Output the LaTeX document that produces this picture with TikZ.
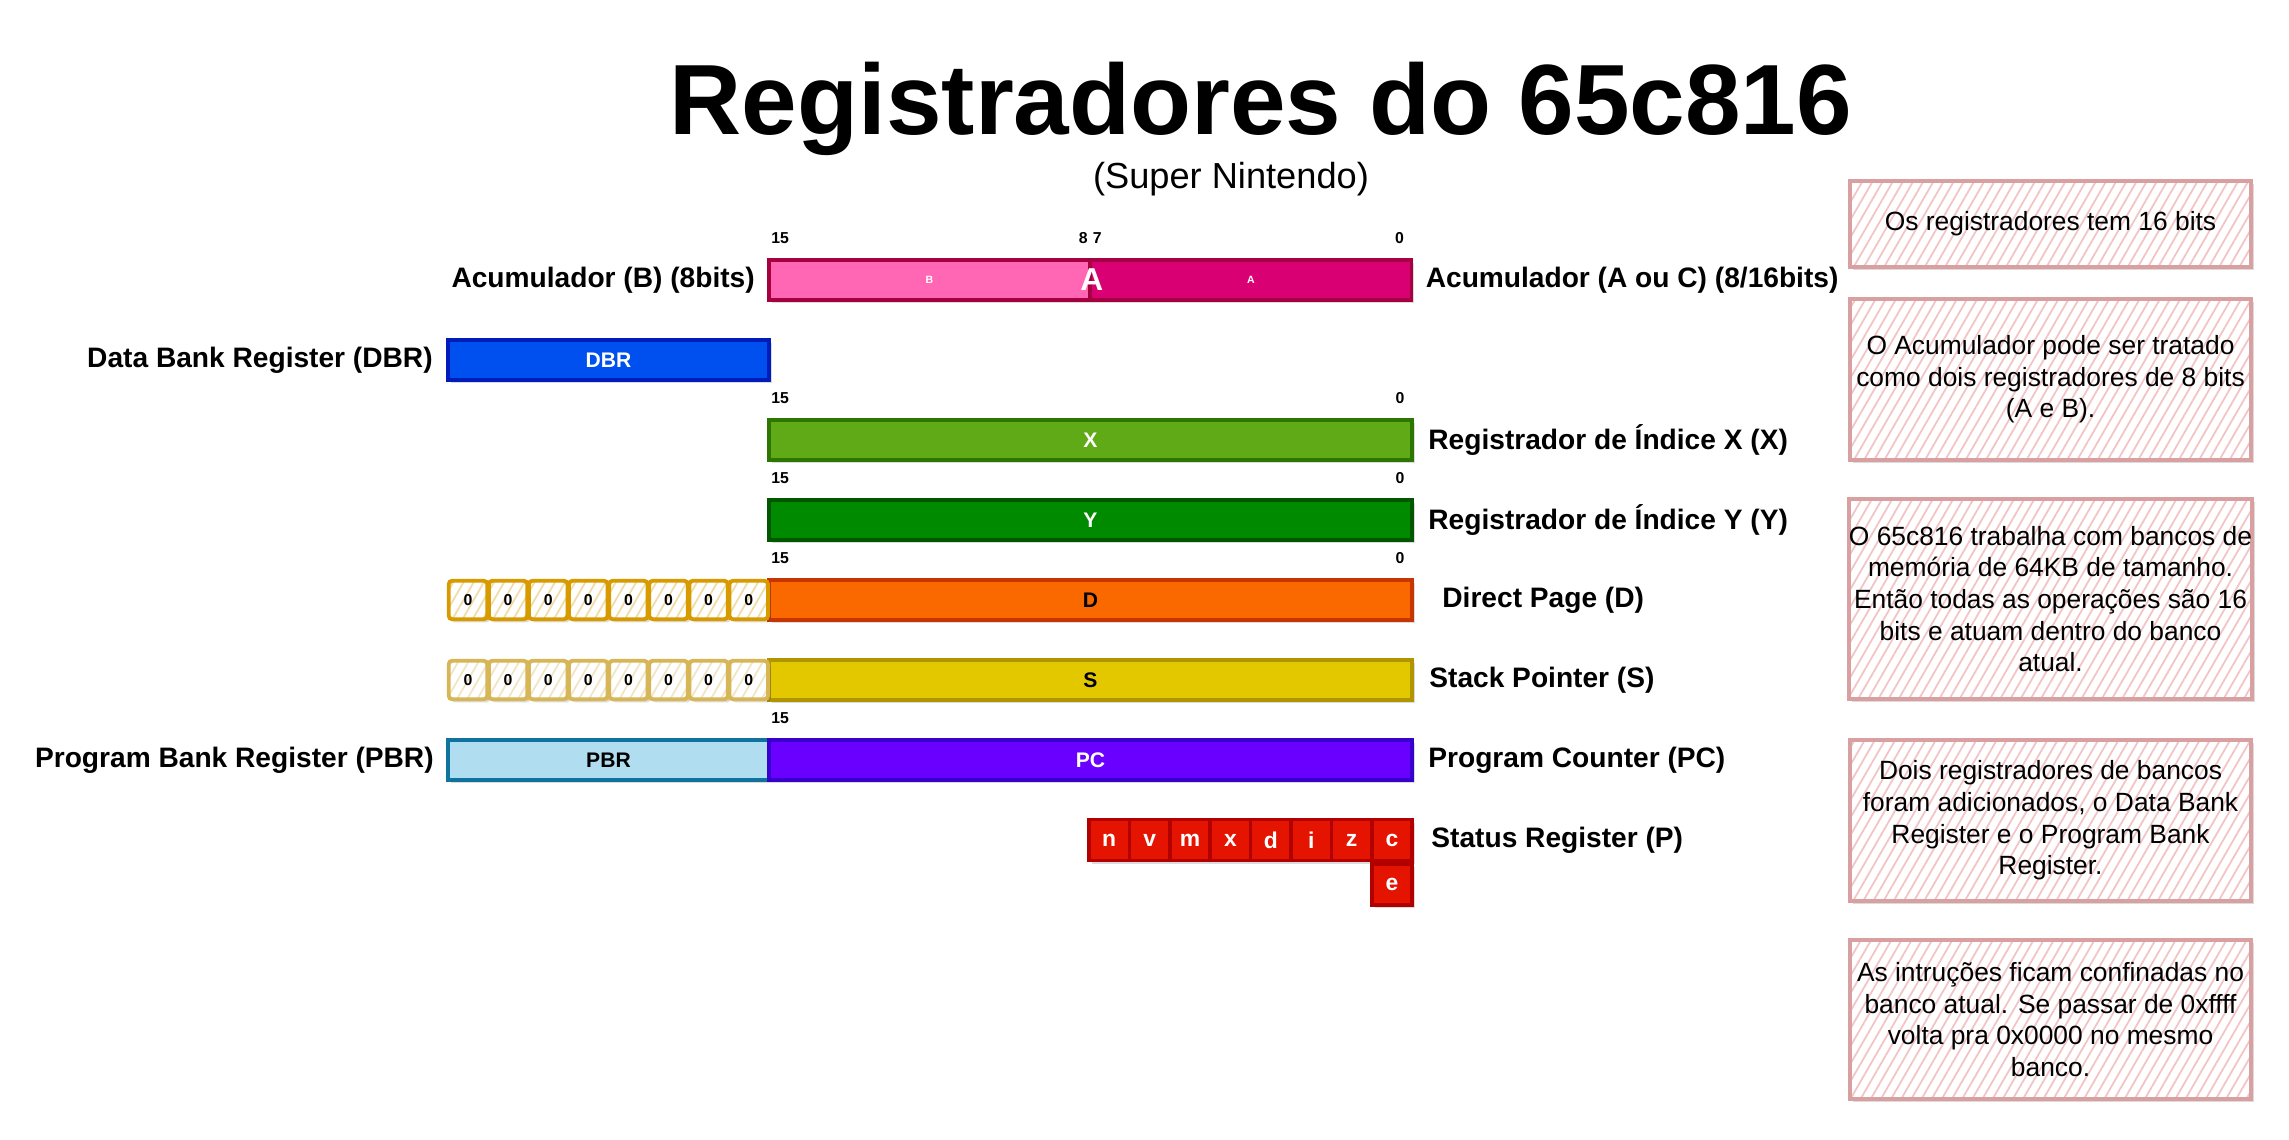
\documentclass[tikz,border=0pt]{standalone}
\usepackage{fontspec}
\setmainfont{Liberation Sans}
\usetikzlibrary{positioning, patterns.meta, shadows}

\definecolor{accBfill}{HTML}{FF66B3}
\definecolor{accAfill}{HTML}{D80073}
\definecolor{accline}{HTML}{A50040}
\definecolor{dbrfill}{HTML}{0050EF}
\definecolor{dbrline}{HTML}{001DBC}
\definecolor{Xfill}{HTML}{60A917}
\definecolor{Xline}{HTML}{2D7600}
\definecolor{Yfill}{HTML}{008A00}
\definecolor{Yline}{HTML}{005700}
\definecolor{dfill}{HTML}{FA6800}
\definecolor{dline}{HTML}{C73500}
\definecolor{sfill}{HTML}{E3C800}
\definecolor{sline}{HTML}{B09500}
\definecolor{pbrfill}{HTML}{B1DDF0}
\definecolor{pbrline}{HTML}{10739E}
\definecolor{pcfill}{HTML}{6A00FF}
\definecolor{pcline}{HTML}{3700CC}
\definecolor{pfill}{HTML}{E51400}
\definecolor{pline}{HTML}{B20000}
\definecolor{zeroD}{HTML}{D79B00}
\definecolor{zeroS}{HTML}{D6B656}
\definecolor{noteline}{HTML}{D8A0A0}
\definecolor{notehatch}{HTML}{F2C4C4}

\tikzset{
  boxshadow/.style={drop shadow={shadow xshift=0.8pt, shadow yshift=-0.9pt, opacity=0.2, fill=black!70}},
  regbox/.style 2 args={rectangle, draw=#1, fill=#2, line width=1pt, inner sep=0pt,
              minimum height=0.40cm, text=white, font=\fontsize{6}{7}\selectfont\bfseries, boxshadow},
  halfreg/.style={minimum width=3.21cm},
  fullreg/.style={minimum width=6.43cm},
  zerobox/.style={rectangle, draw=#1, line width=1.1pt, rounded corners=1pt, inner sep=0pt,
              minimum width=0.385cm, minimum height=0.385cm, boxshadow, preaction={fill=white},
              pattern={Lines[angle=60, distance=2.5pt, line width=0.5pt]}, pattern color=#1!35,
              font=\fontsize{4.5}{5}\selectfont\bfseries},
  flagbox/.style={rectangle, draw=pline, fill=pfill, line width=1pt, inner sep=0pt,
              minimum width=0.404cm, minimum height=0.41cm, text=white,
              font=\fontsize{6.5}{7}\selectfont\bfseries, boxshadow},
  bitnum/.style={font=\fontsize{4.5}{5}\selectfont\bfseries, inner sep=1pt, yshift=3pt},
  reglabel/.style={font=\fontsize{8}{9.6}\selectfont\bfseries},
  notebox/.style={rectangle, draw=noteline, line width=1.1pt, minimum width=4.01cm, inner xsep=0pt,
              align=center, font=\fontsize{7.5}{9}\selectfont, boxshadow, preaction={fill=white},
              pattern={Lines[angle=60, distance=2.5pt, line width=0.5pt]}, pattern color=notehatch},
}

\begin{document}
\begin{tikzpicture}[x=0.01cm, y=-0.01cm]
\useasboundingbox (0,0) rectangle (2289,1139);
\fill[white] (0,0) rectangle (2289,1139);

% title
\node[font=\fontsize{28.4}{34}\selectfont\bfseries, anchor=base] (title) at (1261,134) {Registradores do 65c816};
\node[font=\fontsize{10.3}{12}\selectfont, anchor=base] (subtitle) at (1231,188) {(Super Nintendo)};

% accumulator
\node[regbox={accline}{accBfill}, halfreg, font=\fontsize{3}{3.5}\selectfont\bfseries] (accB) at (929.5,280) {B};
\node[regbox={accline}{accAfill}, halfreg, font=\fontsize{3}{3.5}\selectfont\bfseries] (accA) at (1251,280) {A};
\node[text=white, font=\fontsize{9}{10}\selectfont\bfseries, inner sep=0pt] (accname) at (accB.east) {A};
\node[bitnum, anchor=south west] (bitB15) at (accB.north west) {15};
\node[bitnum, anchor=south east] (bitB8) at (accB.north east) {8};
\node[bitnum, anchor=south west] (bitA7) at (accA.north west) {7};
\node[bitnum, anchor=south east, xshift=-1.5pt] (bitA0) at (accA.north east) {0};
\node[reglabel, left=0.0cm of accB] (lblB) {Acumulador (B) (8bits)};
\node[reglabel, right=0.0cm of accA] (lblA) {Acumulador (A ou C) (8/16bits)};

% bank and index registers
\node[regbox={dbrline}{dbrfill}, halfreg] (DBR) at (608.5,360) {DBR};
\node[reglabel, left=0.01cm of DBR] (lblDBR) {Data Bank Register (DBR)};

\foreach \r/\y/\name in {X/440/Registrador de Índice X (X), Y/520/Registrador de Índice Y (Y)} {
  \node[regbox={\r line}{\r fill}, fullreg] (\r) at (1090.5,\y) {\r};
  \node[bitnum, anchor=south west] (\r15) at (\r.north west) {15};
  \node[bitnum, anchor=south east, xshift=-1.5pt] (\r0) at (\r.north east) {0};
  \node[reglabel, right=0.02cm of \r] (lbl\r) {\name};
}

% direct page and stack pointer
\node[regbox={dline}{dfill}, fullreg, text=black] (D) at (1090.5,600) {D};
\node[bitnum, anchor=south west] (D15) at (D.north west) {15};
\node[bitnum, anchor=south east, xshift=-1.5pt] (D0) at (D.north east) {0};
\node[reglabel, right=0.16cm of D] (lblD) {Direct Page (D)};
\node[regbox={sline}{sfill}, fullreg, text=black] (S) at (1090.5,680) {S};
\node[reglabel, right=0.03cm of S] (lblS) {Stack Pointer (S)};
\foreach \i in {0,...,7} {
  \node[zerobox=zeroD] (zd\i) at ({468+40.1*\i},600) {0};
  \node[zerobox=zeroS] (zs\i) at ({468+40.1*\i},680) {0};
}

% program bank and counter
\node[regbox={pbrline}{pbrfill}, halfreg, text=black] (PBR) at (608.5,760) {PBR};
\node[regbox={pcline}{pcfill}, fullreg] (PC) at (1090.5,760) {PC};
\node[bitnum, anchor=south west] (PC15) at (PC.north west) {15};
\node[reglabel, left=0.0cm of PBR] (lblPBR) {Program Bank Register (PBR)};
\node[reglabel, right=0.02cm of PC] (lblPC) {Program Counter (PC)};

% status flags
\foreach \f [count=\i from 0] in {n,v,m,x,d,i,z,c}
  \node[flagbox] (flag\f) at ({1109.2+40.4*\i},840) {\f};
\node[flagbox, below=0pt of flagc] (flage) {e};
\node[reglabel, right=0.05cm of flagc] (lblP) {Status Register (P)};

% notes
\node[notebox, minimum height=0.86cm] (note1) at (2050.5,224) {Os registradores tem 16 bits};
\node[notebox, minimum height=1.61cm] (note2) at (2050.5,379.5) {O Acumulador pode ser tratado\\como dois registradores de 8 bits\\(A e B).};
\node[notebox, minimum height=2.00cm] (note3) at (2050.5,599) {O 65c816 trabalha com bancos de\\memória de 64KB de tamanho.\\Então todas as operações são 16\\bits e atuam dentro do banco\\atual.};
\node[notebox, minimum height=1.61cm] (note4) at (2050.5,820.5) {Dois registradores de bancos\\foram adicionados, o Data Bank\\Register e o Program Bank\\Register.};
\node[notebox, minimum height=1.59cm] (note5) at (2050.5,1019.5) {As intruções ficam confinadas no\\banco atual. Se passar de 0xffff\\volta pra 0x0000 no mesmo\\banco.};
\end{tikzpicture}
\end{document}
